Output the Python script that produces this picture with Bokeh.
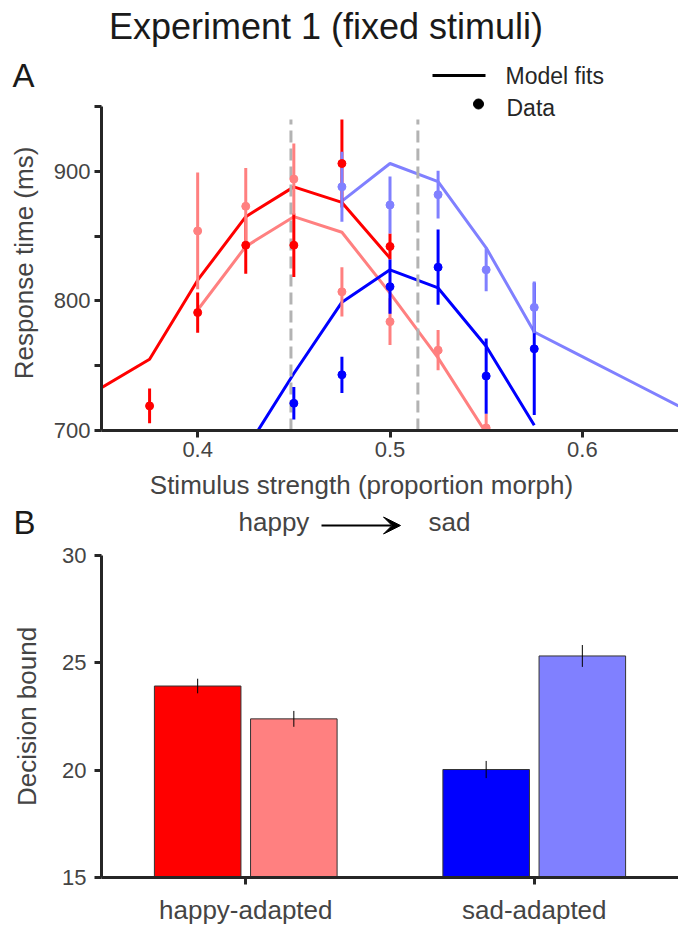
import numpy as np
from bokeh.plotting import figure
from bokeh.models import Label, Arrow, VeeHead, FixedTicker, Range1d
from bokeh.layouts import column
from bokeh.embed import file_html
from bokeh.resources import INLINE

FONT = "Liberation Sans"
DARK = "#1a1a1a"
GRAY = "#444444"
AXC = "#262626"

# ---------------- data: panel A (response times) ----------------
red_fit_x = [0.35, 0.375, 0.4, 0.425, 0.45, 0.475, 0.5]
red_fit_y = [733, 755, 816, 865, 888, 876, 833]
pink_fit_x = [0.4, 0.425, 0.45, 0.475, 0.5, 0.525, 0.55]
pink_fit_y = [793, 842, 865, 853, 806, 756, 698]
blue_fit_x = [0.425, 0.45, 0.475, 0.5, 0.525, 0.55, 0.575]
blue_fit_y = [685, 744, 799, 824, 810, 765, 704]
lblue_fit_x = [0.475, 0.5, 0.525, 0.55, 0.575, 0.6, 0.625, 0.65]
lblue_fit_y = [877, 906, 892, 841, 776, 757, 738, 719]

red_x = [0.375, 0.4, 0.425, 0.45, 0.475, 0.5]
red_y = [719, 791, 843, 843, 906, 842]
red_e = [13.5, 15.5, 22, 24.5, 34, 10]
pink_x = [0.4, 0.425, 0.45, 0.475, 0.5, 0.525, 0.55]
pink_y = [854, 873, 894, 807, 784, 762, 702]
pink_e = [45, 29.5, 27.5, 19, 18, 15.5, 11]
blue_x = [0.45, 0.475, 0.5, 0.525, 0.55, 0.575]
blue_y = [721, 743, 811, 826, 742, 763]
blue_e = [12.5, 14, 21, 29, 29, 51]
lblue_x = [0.475, 0.5, 0.525, 0.55, 0.575]
lblue_y = [888, 874, 882, 824, 795]
lblue_e = [27, 22, 18.5, 16.5, 20]

bound_x = [0.4485, 0.5145]
bound_y = [700, 940]

a_xticks = [0.4, 0.5, 0.6]
a_yticks = [700, 750, 800, 850, 900, 950]
a_ylabels = {700: "700", 750: "", 800: "800", 850: "", 900: "900", 950: ""}

# ---------------- data: panel B (decision bounds) ----------------
groups = ["happy-adapted", "sad-adapted"]
group_pos = [1, 2]
bar_vals = [23.92, 22.39, 20.03, 25.32]
bar_err = [0.34, 0.37, 0.40, 0.51]
bar_group = [0, 0, 1, 1]
bar_side = [-1, 1, -1, 1]
b_yticks = [15, 20, 25, 30]

RED, PINK, BLUE, LBLUE = "#ff0000", "#ff8080", "#0000ff", "#8080ff"
bar_colors = [RED, PINK, BLUE, LBLUE]

W = 678
Y_HEAD_END = 95     # header strip: page y 0..95
Y_A_END = 470       # panel A: 95..470
Y_MID_END = 542     # middle strip: 470..542 ; panel B: 542..927
H_TOTAL = 927


def ax(px):  # page x -> panel A data x
    return 0.35 + (px - 101) * 0.30 / 577


def ay(py):  # page y -> panel A data y
    return 700 + (430 - py) * 250 / 324


def no_align(fig):
    try:
        fig.frame_align = False
    except Exception:
        pass


def style_axes(fig, label_size="22px"):
    fig.outline_line_color = None
    fig.xgrid.visible = False
    fig.ygrid.visible = False
    for axis in (fig.xaxis[0], fig.yaxis[0]):
        axis.axis_line_width = 3
        axis.axis_line_color = AXC
        axis.major_tick_line_width = 3
        axis.major_tick_line_color = AXC
        axis.major_tick_in = 0
        axis.major_tick_out = 7
        axis.minor_tick_line_color = None
        axis.major_label_text_font = FONT
        axis.major_label_text_font_size = label_size
        axis.major_label_text_color = GRAY
        axis.axis_label_text_font = FONT
        axis.axis_label_text_font_size = "26px"
        axis.axis_label_text_font_style = "normal"
        axis.axis_label_text_color = GRAY


def text_fig(top, bottom):
    f = figure(width=W, height=bottom - top, x_range=Range1d(0, W), y_range=Range1d(bottom, top),
               x_axis_type=None, y_axis_type=None, output_backend="svg", toolbar_location=None,
               min_border=0)
    f.outline_line_color = None
    no_align(f)
    return f


def add_label(fig, x, y_base, text, size, color=DARK, align="left", yconv=None):
    # y_base is the wanted page-pixel baseline; labels are anchored at their middle
    px = float(size.replace("px", ""))
    yc = y_base - 0.38 * px
    if yconv is not None:
        yc = yconv(yc)
    fig.add_layout(Label(x=x, y=yc, text=text, text_font=FONT, text_font_size=size,
                         text_color=color, text_align=align, text_baseline="middle"))

# ---------------- header ----------------
head = text_fig(0, Y_HEAD_END)
add_label(head, 325.5, 40, "Experiment 1 (fixed stimuli)", "36px", align="center")
add_label(head, 12, 87.5, "A", "33px")
head.line([432, 485], [75, 75], line_color="black", line_width=3)
add_label(head, 505, 84, "Model fits", "23px", color=AXC)

# ---------------- panel A ----------------
p = figure(width=W, height=Y_A_END - Y_HEAD_END, x_range=Range1d(0.35, 0.65),
           y_range=Range1d(700, ay(Y_HEAD_END)),
           output_backend="svg", toolbar_location=None,
           min_border_left=101, min_border_right=0, min_border_top=0,
           min_border_bottom=Y_A_END - 430)
no_align(p)
style_axes(p)
p.xaxis.ticker = FixedTicker(ticks=a_xticks)
p.xaxis.major_label_standoff = 4
p.yaxis.ticker = FixedTicker(ticks=a_yticks)
p.yaxis.major_label_overrides = a_ylabels
p.yaxis.major_label_standoff = 4
p.yaxis.bounds = (a_yticks[0], a_yticks[-1])
p.yaxis.axis_label = "Response time (ms)"
p.yaxis.axis_label_standoff = 12

for fx, fy, c in [(red_fit_x, red_fit_y, RED), (pink_fit_x, pink_fit_y, PINK),
                  (blue_fit_x, blue_fit_y, BLUE), (lblue_fit_x, lblue_fit_y, LBLUE)]:
    p.line(fx, fy, line_color=c, line_width=3)

for bxv in bound_x:
    p.segment(x0=[bxv], y0=[bound_y[0]], x1=[bxv], y1=[bound_y[1]],
              line_color="#b3b3b3", line_width=3, line_dash="12 6")

series = [(red_x, red_y, red_e, RED), (pink_x, pink_y, pink_e, PINK),
          (blue_x, blue_y, blue_e, BLUE), (lblue_x, lblue_y, lblue_e, LBLUE)]
for xs, ys, es, c in series:
    ys_a, es_a = np.array(ys, float), np.array(es, float)
    p.segment(x0=xs, y0=ys_a - es_a, x1=xs, y1=ys_a + es_a, line_color=c, line_width=3)
for xs, ys, es, c in series:
    p.scatter(xs, ys, size=8, fill_color=c, line_color=c)

# legend "Data" entry (inside the frame area)
p.scatter([ax(478)], [ay(103.5)], size=10, fill_color="black", line_color="black")
add_label(p, ax(506), 116.5, "Data", "23px", color=AXC, yconv=ay)

# ---------------- middle strip ----------------
mid = text_fig(Y_A_END, Y_MID_END)
add_label(mid, 361, 494.5, "Stimulus strength (proportion morph)", "26px", color=GRAY, align="center")
add_label(mid, 238, 531, "happy", "26px", color=GRAY)
add_label(mid, 428, 531, "sad", "26px", color=GRAY)
mid.add_layout(Arrow(end=VeeHead(size=17, fill_color="black", line_color="black", line_width=1),
                     x_start=321, y_start=525, x_end=400, y_end=525,
                     line_color="black", line_width=2))
add_label(mid, 13, 534.5, "B", "33px")

# ---------------- panel B ----------------
q = figure(width=W, height=H_TOTAL - Y_MID_END, x_range=Range1d(0.5, 2.5), y_range=Range1d(15, 30),
           output_backend="svg", toolbar_location=None,
           min_border_left=101, min_border_right=0, min_border_top=555 - Y_MID_END,
           min_border_bottom=H_TOTAL - 879)
no_align(q)
style_axes(q, label_size="22px")
q.xaxis.ticker = FixedTicker(ticks=group_pos)
q.xaxis.major_label_overrides = {gp: g for gp, g in zip(group_pos, groups)}
q.xaxis.major_label_text_font_size = "26px"
q.xaxis.major_label_standoff = 10
q.yaxis.ticker = FixedTicker(ticks=b_yticks)
q.yaxis.major_label_standoff = 8
q.yaxis.axis_label = "Decision bound"
q.yaxis.axis_label_standoff = 17

bar_x = [group_pos[g] + s / 6 for g, s in zip(bar_group, bar_side)]
q.vbar(x=bar_x, width=0.3, bottom=15, top=bar_vals, fill_color=bar_colors,
       line_color="#333333", line_width=1)
vals, errs = np.array(bar_vals), np.array(bar_err)
q.segment(x0=bar_x, y0=vals - errs, x1=bar_x, y1=vals + errs, line_color="black", line_width=1)

layout = column(head, p, mid, q, spacing=0)
open("out.html", "w").write(file_html(layout, INLINE))
